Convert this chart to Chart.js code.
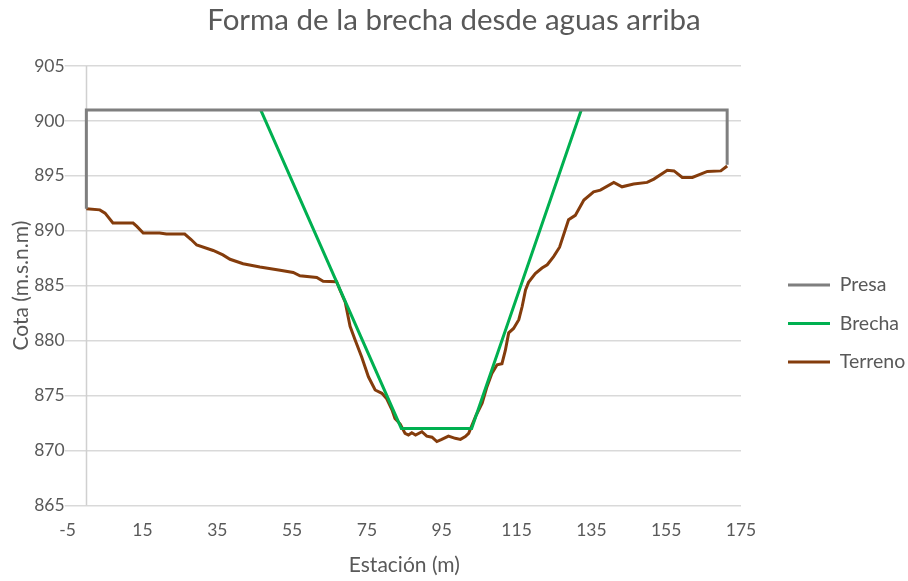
<!DOCTYPE html>
<html>
<head>
<meta charset="utf-8">
<script src="https://cdn.jsdelivr.net/npm/chart.js@4.4.1/dist/chart.umd.min.js"></script>
<style>
  html, body { margin: 0; padding: 0; background: #fff; }
</style>
</head>
<body>
<canvas id="brecha" width="908" height="581"></canvas>
<script>
// Presa (dam outline)
var presaX = [0, 0, 171.3, 171.3];
var presaY = [892, 901, 901, 896];

// Brecha (breach trapezoid)
var brechaX = [46.6, 84.2, 103, 132.3];
var brechaY = [901, 872, 872, 901];

// Terreno (ground profile)
var terrenoX = [0, 3.6, 5.0, 7.1, 12.5, 13.5, 15.2, 19.6, 21.4, 26.3,
  28.0, 29.5, 33.9, 36.5, 38.4, 41.9, 46.4, 51.8, 55.3, 57.1,
  61.6, 63.3, 66.9, 67.8, 69.2, 70.5, 71.8, 73.6, 75.4, 77.2,
  79.0, 80.3, 81.7, 82.5, 83.9, 85.2, 86.1, 87.0, 88.0, 89.7,
  91.0, 92.4, 93.7, 95.0, 96.8, 98.6, 100.0, 101.3, 102.2, 103.1,
  104.2, 105.8, 107.1, 108.4, 109.8, 111.1, 112.0, 112.9, 114.2, 115.6,
  116.5, 117.4, 118.2, 120.0, 121.8, 123.2, 124.9, 126.5, 128.9, 130.7,
  133.0, 135.6, 137.4, 141.0, 143.2, 146.3, 149.9, 151.7, 155.3, 157.1,
  159.3, 162.0, 166.0, 169.6, 171.3];
var terrenoY = [892.0, 891.9, 891.6, 890.7, 890.7, 890.4, 889.8, 889.8, 889.7, 889.7,
  889.2, 888.7, 888.2, 887.8, 887.4, 887.0, 886.7, 886.4, 886.2, 885.9,
  885.75, 885.4, 885.35, 884.6, 883.5, 881.3, 880.1, 878.5, 876.7, 875.5,
  875.2, 874.7, 873.7, 872.9, 872.4, 871.55, 871.4, 871.6, 871.4, 871.7,
  871.3, 871.2, 870.8, 871.0, 871.3, 871.1, 871.0, 871.25, 871.55, 872.3,
  873.2, 874.3, 875.8, 877.0, 877.8, 877.9, 879.1, 880.7, 881.1, 881.9,
  883.1, 884.6, 885.3, 886.1, 886.6, 886.9, 887.65, 888.5, 891.0, 891.4,
  892.8, 893.55, 893.7, 894.4, 894.0, 894.25, 894.4, 894.7, 895.5, 895.45,
  894.85, 894.85, 895.4, 895.45, 895.9];

var xTicks = [-5, 15, 35, 55, 75, 95, 115, 135, 155, 175];

function toPoints(xs, ys) {
  return xs.map(function (x, i) { return {x: x, y: ys[i]}; });
}

var textColor = '#595959';
var fontFamily = "Lato, 'Open Sans', sans-serif";

// vertical axis line where x = 0 (like Excel's crossing axis)
var ejeCero = {
  id: 'ejeCero',
  beforeDatasetsDraw: function (chart) {
    var xs = chart.scales.x, ys = chart.scales.y;
    var px = Math.round(xs.getPixelForValue(0)) + 0.5;
    var c = chart.ctx;
    c.save();
    c.strokeStyle = '#d0d0d0';
    c.lineWidth = 1.5;
    c.beginPath();
    c.moveTo(px, ys.top);
    c.lineTo(px, ys.bottom);
    c.stroke();
    c.restore();
  }
};

// legend box: wider, items pushed right and down like the Excel layout
var legendaBox = {
  id: 'legendaBox',
  beforeInit: function (chart) {
    var legend = chart.legend;
    var fitOrig = legend.fit;
    legend.fit = function () {
      fitOrig.call(this);
      this.width = 167;
    };
  },
  afterLayout: function (chart) {
    var legend = chart.legend;
    legend.left += 28;
    legend.right += 28;
    legend.top += 33;
    legend.bottom += 33;
  }
};

var ctx_brecha = document.getElementById('brecha');
var brecha = new Chart(ctx_brecha, {
  type: 'scatter',
  data: {
    datasets: [
      {
        label: 'Presa',
        showLine: true,
        fill: false,
        borderColor: '#7f7f7f',
        backgroundColor: '#7f7f7f',
        borderWidth: 3,
        pointRadius: 0,
        data: toPoints(presaX, presaY)
      },
      {
        label: 'Brecha',
        showLine: true,
        fill: false,
        borderColor: '#00b050',
        backgroundColor: '#00b050',
        borderWidth: 3,
        pointRadius: 0,
        data: toPoints(brechaX, brechaY)
      },
      {
        label: 'Terreno',
        showLine: true,
        fill: false,
        borderColor: '#843c0c',
        backgroundColor: '#843c0c',
        borderWidth: 3,
        pointRadius: 0,
        data: toPoints(terrenoX, terrenoY)
      }
    ]
  },
  options: {
    responsive: false,
    animation: false,
    plugins: {
      title: {
        display: true,
        text: 'Forma de la brecha desde aguas arriba',
        color: textColor,
        font: {family: fontFamily, size: 29.5, weight: 'normal'},
        padding: {top: 3, bottom: 27.6}
      },
      legend: {
        display: true,
        position: 'right',
        labels: {
          color: textColor,
          font: {family: fontFamily, size: 19.5},
          boxWidth: 42,
          boxHeight: 3,
          padding: 19,
          generateLabels: function (chart) {
            return chart.data.datasets.map(function (ds, i) {
              return {
                text: ds.label,
                fillStyle: ds.borderColor,
                strokeStyle: ds.borderColor,
                lineWidth: 0,
                fontColor: textColor,
                datasetIndex: i
              };
            });
          }
        }
      },
      tooltip: {enabled: false}
    },
    scales: {
      x: {
        type: 'linear',
        min: -5,
        max: 175,
        afterBuildTicks: function (axis) {
          axis.ticks = xTicks.map(function (v) { return {value: v}; });
        },
        grid: {display: false, drawTicks: true, tickLength: 15},
        border: {display: false},
        ticks: {
          color: textColor,
          font: {family: fontFamily, size: 17.5},
          padding: 0,
          maxRotation: 0
        },
        title: {
          display: true,
          text: 'Estación (m)',
          color: textColor,
          font: {family: fontFamily, size: 21},
          padding: {top: 11, bottom: 3.5}
        }
      },
      y: {
        type: 'linear',
        min: 865,
        max: 905,
        ticks: {
          stepSize: 5,
          color: textColor,
          font: {family: fontFamily, size: 17.5},
          padding: 0
        },
        grid: {
          color: '#d9d9d9',
          lineWidth: 1.5,
          tickLength: 3
        },
        border: {display: false},
        title: {
          display: true,
          text: 'Cota (m.s.n.m)',
          color: textColor,
          font: {family: fontFamily, size: 21},
          padding: {top: 9, bottom: 0}
        }
      }
    }
  },
  plugins: [ejeCero, legendaBox]
});
</script>
</body>
</html>
